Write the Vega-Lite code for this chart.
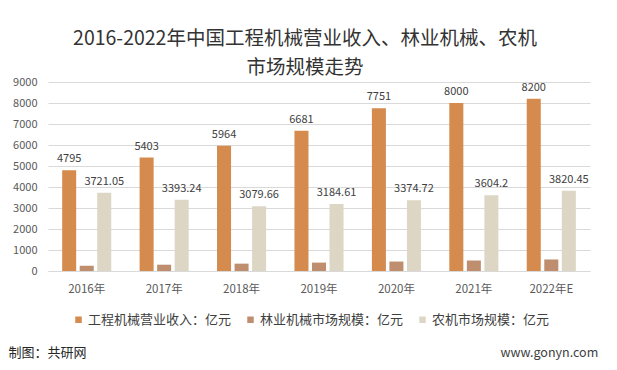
{
  "$schema": "https://vega.github.io/schema/vega-lite/v6.json",
  "width": 542,
  "height": 189,
  "autosize": {"type": "none"},
  "padding": {"left": 48, "top": 82, "right": 27, "bottom": 99},
  "background": "white",
  "title": {
    "text": ["2016-2022年中国工程机械营业收入、林业机械、农机", "市场规模走势"],
    "fontSize": 19.5,
    "font": "Noto Sans CJK SC",
    "fontWeight": "normal",
    "color": "#333333",
    "lineHeight": 29,
    "anchor": "middle",
    "frame": "group",
    "dx": -14,
    "offset": -2
  },
  "config": {
    "font": "Noto Sans CJK SC",
    "view": {"stroke": null}
  },
  "data": {
    "values": [
      {"year": "2016年", "series": "工程机械营业收入：亿元", "value": 4795},
      {"year": "2016年", "series": "林业机械市场规模：亿元", "value": 250},
      {"year": "2016年", "series": "农机市场规模：亿元", "value": 3721.05},
      {"year": "2017年", "series": "工程机械营业收入：亿元", "value": 5403},
      {"year": "2017年", "series": "林业机械市场规模：亿元", "value": 300},
      {"year": "2017年", "series": "农机市场规模：亿元", "value": 3393.24},
      {"year": "2018年", "series": "工程机械营业收入：亿元", "value": 5964},
      {"year": "2018年", "series": "林业机械市场规模：亿元", "value": 350},
      {"year": "2018年", "series": "农机市场规模：亿元", "value": 3079.66},
      {"year": "2019年", "series": "工程机械营业收入：亿元", "value": 6681},
      {"year": "2019年", "series": "林业机械市场规模：亿元", "value": 400},
      {"year": "2019年", "series": "农机市场规模：亿元", "value": 3184.61},
      {"year": "2020年", "series": "工程机械营业收入：亿元", "value": 7751},
      {"year": "2020年", "series": "林业机械市场规模：亿元", "value": 450},
      {"year": "2020年", "series": "农机市场规模：亿元", "value": 3374.72},
      {"year": "2021年", "series": "工程机械营业收入：亿元", "value": 8000},
      {"year": "2021年", "series": "林业机械市场规模：亿元", "value": 500},
      {"year": "2021年", "series": "农机市场规模：亿元", "value": 3604.2},
      {"year": "2022年E", "series": "工程机械营业收入：亿元", "value": 8200},
      {"year": "2022年E", "series": "林业机械市场规模：亿元", "value": 550},
      {"year": "2022年E", "series": "农机市场规模：亿元", "value": 3820.45}
    ]
  },
  "encoding": {
    "x": {
      "field": "year",
      "type": "nominal",
      "sort": null,
      "scale": {"paddingInner": 0.366, "paddingOuter": 0.183},
      "axis": {
        "labelAngle": 0,
        "labelFontSize": 11.5,
        "labelColor": "#595959",
        "domainColor": "#d9d9d9",
        "ticks": false,
        "labelPadding": 12,
        "title": "制图：共研网",
        "titleX": -40,
        "titleY": 81,
        "titleAlign": "left",
        "titleBaseline": "middle",
        "titleFontSize": 13,
        "titleFontWeight": "normal",
        "titleColor": "#262626"
      }
    },
    "y": {
      "field": "value",
      "type": "quantitative",
      "scale": {"domain": [0, 9000], "nice": false},
      "axis": {
        "values": [0, 1000, 2000, 3000, 4000, 5000, 6000, 7000, 8000, 9000],
        "format": "d",
        "labelFontSize": 11,
        "labelColor": "#595959",
        "domain": false,
        "ticks": false,
        "labelPadding": 11,
        "gridColor": "#d9d9d9",
        "title": "www.gonyn.com",
        "titleAngle": 0,
        "titleX": 452,
        "titleY": 270,
        "titleAlign": "left",
        "titleBaseline": "middle",
        "titleFontSize": 12.5,
        "titleFontWeight": "normal",
        "titleColor": "#404040"
      }
    },
    "xOffset": {
      "field": "series",
      "type": "nominal",
      "sort": ["工程机械营业收入：亿元", "林业机械市场规模：亿元", "农机市场规模：亿元"],
      "scale": {"paddingInner": 0.2, "paddingOuter": 0}
    }
  },
  "layer": [
    {
      "mark": {"type": "bar"},
      "encoding": {
        "color": {
          "field": "series",
          "type": "nominal",
          "scale": {
            "domain": ["工程机械营业收入：亿元", "林业机械市场规模：亿元", "农机市场规模：亿元"],
            "range": ["#D58B4E", "#BE8E6F", "#DDD6C5"]
          },
          "legend": {
            "orient": "none",
            "legendX": 24,
            "legendY": 231,
            "direction": "horizontal",
            "title": null,
            "symbolType": "square",
            "symbolSize": 42,
            "symbolStrokeWidth": 0,
            "labelFontSize": 13,
            "labelColor": "#404040",
            "labelLimit": 300,
            "columnPadding": 12,
            "labelOffset": 3
          }
        }
      }
    },
    {
      "transform": [{"filter": "datum.series !== '林业机械市场规模：亿元'"}],
      "mark": {"type": "text", "baseline": "alphabetic", "dy": -8, "fontSize": 11, "color": "#404040"},
      "encoding": {
        "text": {"field": "value", "type": "nominal"}
      }
    }
  ]
}
